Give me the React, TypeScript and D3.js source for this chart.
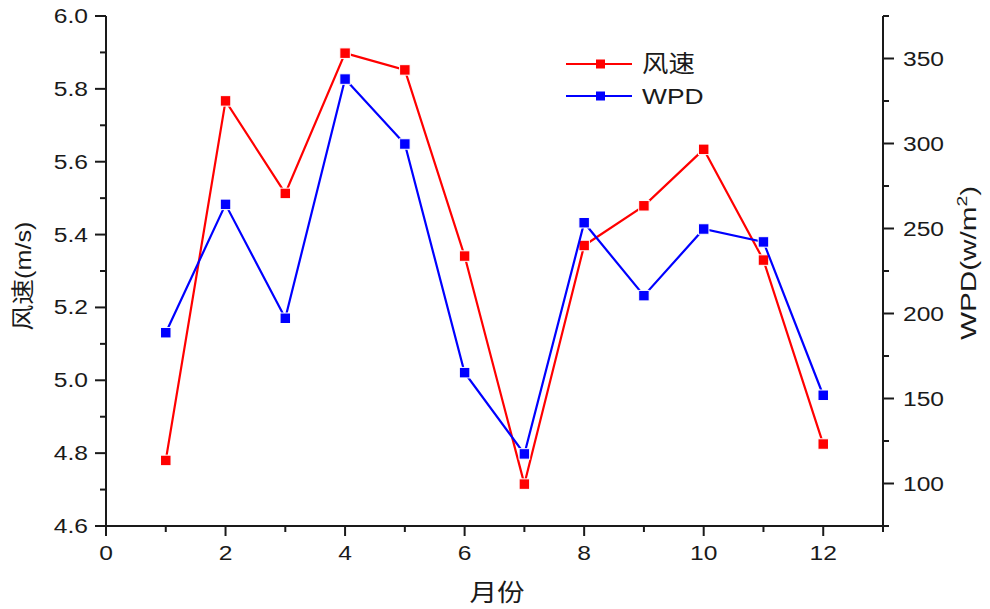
import React from "react";
import * as d3 from "d3";

// Monthly mean wind speed (m/s) and wind power density (W/m²)
const months = [1, 2, 3, 4, 5, 6, 7, 8, 9, 10, 11, 12];
const windSpeed = [4.78, 5.767, 5.513, 5.898, 5.852, 5.341, 4.715, 5.37, 5.479, 5.634, 5.33, 4.825];
const wpd = [188.7, 264.2, 197.2, 337.9, 299.7, 165.2, 117.4, 253.4, 210.5, 249.7, 242.1, 151.9];

// Axis ticks and labels
const xTicks = [0, 2, 4, 6, 8, 10, 12];
const xMinor = [1, 3, 5, 7, 9, 11, 13];
const leftTicks = [4.6, 4.8, 5.0, 5.2, 5.4, 5.6, 5.8, 6.0];
const leftMinor = [4.7, 4.9, 5.1, 5.3, 5.5, 5.7, 5.9];
const rightTicks = [100, 150, 200, 250, 300, 350];
const rightMinor = [75, 125, 175, 225, 275, 325, 375];

const seriesNames = ["风速", "WPD"];
const xTitle = "月份";

const W = 990;
const H = 609;
const LEFT = 106;
const RIGHT = 883;
const TOP = 16;
const BOTTOM = 526;

const RED = "#ff0000";
const BLUE = "#0000ff";
const INK = "#1a1a1a";
const LATIN = "'Liberation Sans', Arial, sans-serif";
const CJK = "'Noto Sans CJK SC', 'Noto Sans', sans-serif";

const x = d3.scaleLinear().domain([0, 13]).range([LEFT, RIGHT]);
const yL = d3.scaleLinear().domain([4.6, 6.0]).range([BOTTOM, TOP]);
const yR = d3.scaleLinear().domain([75, 375]).range([BOTTOM, TOP]);

// Text drawn slightly stretched along its own direction
function SText(props: {
  x: number;
  y: number;
  rot?: number;
  s?: number;
  anchor?: string;
  size: number;
  family?: string;
  children: React.ReactNode;
}) {
  const { rot = 0, s = 1.2, anchor = "start", family = LATIN } = props;
  return (
    <text
      transform={`translate(${props.x},${props.y}) rotate(${rot}) scale(${s},1)`}
      textAnchor={anchor}
      fontSize={props.size}
      fontFamily={family}
      fill={INK}
    >
      {props.children}
    </text>
  );
}

function Series({ values, y, color }: { values: number[]; y: d3.ScaleLinear<number, number>; color: string }) {
  const line = d3
    .line<number>()
    .x((_, i) => x(months[i]))
    .y((v) => y(v));
  const m = 10.5;
  return (
    <g>
      <path d={line(values) || ""} fill="none" stroke={color} strokeWidth={2.2} />
      {values.map((v, i) => (
        <rect
          key={i}
          x={x(months[i]) - m / 2}
          y={y(v) - m / 2}
          width={m}
          height={m}
          fill={color}
          stroke="#ffffff"
          strokeWidth={1}
        />
      ))}
    </g>
  );
}

export default function App() {
  const fmt1 = d3.format(".1f");
  return (
    <svg
      width={W}
      height={H}
      viewBox={`0 0 ${W} ${H}`}
      style={{ position: "absolute", left: 0, top: 0, display: "block", background: "#ffffff" }}
    >
      <rect x={0} y={0} width={W} height={H} fill="#ffffff" />

      {/* data */}
      <Series values={windSpeed} y={yL} color={RED} />
      <Series values={wpd} y={yR} color={BLUE} />

      {/* axes */}
      <g stroke={INK} strokeWidth={2} fill="none">
        <line x1={LEFT} y1={TOP} x2={LEFT} y2={BOTTOM + 1} />
        <line x1={LEFT - 1} y1={BOTTOM} x2={RIGHT + 1} y2={BOTTOM} />
        <line x1={RIGHT} y1={TOP} x2={RIGHT} y2={BOTTOM + 1} />
        {leftTicks.map((t) => (
          <line key={"lt" + t} x1={LEFT - 11} x2={LEFT} y1={yL(t)} y2={yL(t)} />
        ))}
        {leftMinor.map((t) => (
          <line key={"lm" + t} x1={LEFT - 6} x2={LEFT} y1={yL(t)} y2={yL(t)} />
        ))}
        {rightTicks.map((t) => (
          <line key={"rt" + t} x1={RIGHT} x2={RIGHT + 11} y1={yR(t)} y2={yR(t)} />
        ))}
        {rightMinor.map((t) => (
          <line key={"rm" + t} x1={RIGHT} x2={RIGHT + 6} y1={yR(t)} y2={yR(t)} />
        ))}
        {xTicks.map((t) => (
          <line key={"xt" + t} x1={x(t)} x2={x(t)} y1={BOTTOM} y2={BOTTOM + 10} />
        ))}
        {xMinor.map((t) => (
          <line key={"xm" + t} x1={x(t)} x2={x(t)} y1={BOTTOM} y2={BOTTOM + 6} />
        ))}
      </g>

      {/* tick labels */}
      {leftTicks.map((t) => (
        <SText key={"ll" + t} x={LEFT - 18} y={yL(t) + 7} anchor="end" size={20.5}>
          {fmt1(t)}
        </SText>
      ))}
      {rightTicks.map((t) => (
        <SText key={"rl" + t} x={RIGHT + 20} y={yR(t) + 7} size={20.5}>
          {t}
        </SText>
      ))}
      {xTicks.map((t) => (
        <SText key={"xl" + t} x={x(t)} y={BOTTOM + 34} anchor="middle" size={20.5}>
          {t}
        </SText>
      ))}

      {/* axis titles */}
      <SText x={497} y={601} anchor="middle" size={24} family={CJK} s={1.15}>
        {xTitle}
      </SText>
      <SText x={31} y={276} rot={-90} anchor="middle" size={23} family={CJK} s={1.12}>
        {seriesNames[0]}
        <tspan fontFamily={LATIN} fontSize={22.5}>(m/s)</tspan>
      </SText>
      <SText x={976} y={263} rot={-90} anchor="middle" size={21.5} s={1.38}>
        {seriesNames[1]}(w/m
        <tspan dy={-9} fontSize={14}>2</tspan>
        <tspan dy={9}>)</tspan>
      </SText>

      {/* legend */}
      {[RED, BLUE].map((c, i) => {
        const ly = 64 + i * 32;
        return (
          <g key={c}>
            <line x1={566} x2={632} y1={ly} y2={ly} stroke={c} strokeWidth={2.2} />
            <rect x={596} y={ly - 4.5} width={9} height={9} fill={c} />
            <SText
              x={642}
              y={ly + 8}
              size={i === 0 ? 24 : 22}
              family={i === 0 ? CJK : LATIN}
              s={i === 0 ? 1.1 : 1.2}
            >
              {seriesNames[i]}
            </SText>
          </g>
        );
      })}
    </svg>
  );
}
